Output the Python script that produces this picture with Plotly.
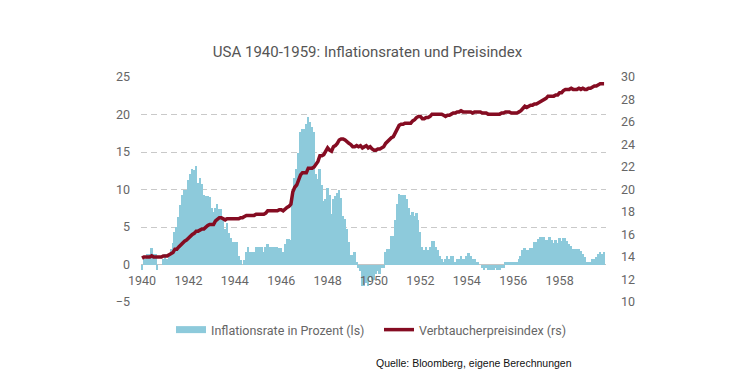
import plotly.graph_objects as go

# Monthly data Jan 1940 .. Dec 1959
years = list(range(1940, 1960))

cpi = [
    13.9, 14.0, 14.0, 14.0, 14.0, 14.1, 14.0, 14.0, 14.0, 14.0, 14.0, 14.1,  # 1940
    14.1, 14.1, 14.2, 14.3, 14.4, 14.7, 14.7, 14.9, 15.1, 15.3, 15.4, 15.5,  # 1941
    15.7, 15.8, 16.0, 16.1, 16.3, 16.3, 16.4, 16.5, 16.5, 16.7, 16.8, 16.9,  # 1942
    16.9, 16.9, 17.2, 17.4, 17.5, 17.5, 17.4, 17.3, 17.4, 17.4, 17.4, 17.4,  # 1943
    17.4, 17.4, 17.4, 17.5, 17.5, 17.6, 17.7, 17.7, 17.7, 17.7, 17.7, 17.8,  # 1944
    17.8, 17.8, 17.8, 17.8, 17.9, 18.1, 18.1, 18.1, 18.1, 18.1, 18.1, 18.2,  # 1945
    18.2, 18.1, 18.3, 18.4, 18.5, 18.7, 19.8, 20.2, 20.4, 20.8, 21.3, 21.5,  # 1946
    21.5, 21.5, 21.9, 21.9, 21.9, 22.0, 22.2, 22.5, 23.0, 23.0, 23.1, 23.4,  # 1947
    23.7, 23.5, 23.4, 23.8, 23.9, 24.1, 24.4, 24.5, 24.5, 24.4, 24.2, 24.1,  # 1948
    24.0, 23.8, 23.8, 23.9, 23.8, 23.9, 23.7, 23.8, 23.9, 23.7, 23.8, 23.6,  # 1949
    23.5, 23.5, 23.6, 23.6, 23.7, 23.8, 24.1, 24.3, 24.4, 24.6, 24.7, 25.0,  # 1950
    25.4, 25.7, 25.8, 25.8, 25.9, 25.9, 25.9, 25.9, 26.1, 26.2, 26.4, 26.5,  # 1951
    26.5, 26.3, 26.3, 26.4, 26.4, 26.5, 26.7, 26.7, 26.7, 26.7, 26.7, 26.7,  # 1952
    26.6, 26.5, 26.6, 26.6, 26.7, 26.8, 26.8, 26.9, 26.9, 27.0, 26.9, 26.9,  # 1953
    26.9, 26.9, 26.9, 26.8, 26.9, 26.9, 26.9, 26.9, 26.8, 26.8, 26.8, 26.7,  # 1954
    26.7, 26.7, 26.7, 26.7, 26.7, 26.7, 26.8, 26.8, 26.9, 26.9, 26.9, 26.8,  # 1955
    26.8, 26.8, 26.8, 26.9, 27.0, 27.2, 27.4, 27.3, 27.4, 27.5, 27.5, 27.6,  # 1956
    27.6, 27.7, 27.8, 27.9, 28.0, 28.1, 28.3, 28.3, 28.3, 28.3, 28.4, 28.4,  # 1957
    28.6, 28.6, 28.8, 28.9, 28.9, 28.9, 29.0, 28.9, 28.9, 28.9, 29.0, 28.9,  # 1958
    29.0, 28.9, 28.9, 29.0, 29.0, 29.1, 29.2, 29.2, 29.3, 29.4, 29.4, 29.4,  # 1959
]

inflation = [
    -0.7, 0.7, 0.7, 1.4, 1.4, 2.2, 1.4, 1.4, -0.7, 0.0, 0.0, 0.7,  # 1940
    1.4, 0.7, 1.4, 2.1, 2.9, 4.3, 5.0, 6.4, 7.9, 9.3, 10.0, 9.9,  # 1941
    11.3, 12.1, 12.7, 12.6, 13.2, 10.9, 11.6, 10.7, 9.3, 9.2, 9.1, 9.0,  # 1942
    7.6, 7.0, 7.5, 8.1, 7.4, 7.4, 6.1, 4.8, 5.5, 4.2, 3.6, 3.0,  # 1943
    3.0, 3.0, 1.2, 0.6, 0.0, 0.6, 1.7, 2.3, 1.7, 1.7, 1.7, 2.3,  # 1944
    2.3, 2.3, 2.3, 1.7, 2.3, 2.8, 2.3, 2.3, 2.3, 2.3, 2.3, 2.2,  # 1945
    2.2, 1.7, 2.8, 3.4, 3.4, 3.3, 9.4, 11.6, 12.7, 14.9, 17.7, 18.1,  # 1946
    18.1, 18.8, 19.7, 19.0, 18.4, 17.7, 12.1, 11.4, 12.7, 10.6, 8.5, 8.8,  # 1947
    10.2, 9.3, 6.8, 8.7, 9.1, 9.6, 9.9, 8.9, 6.5, 6.1, 4.8, 3.0,  # 1948
    1.3, 1.3, 1.7, 0.4, -0.4, -0.8, -2.9, -2.9, -2.4, -2.9, -1.7, -2.1,  # 1949
    -2.1, -1.3, -0.8, -1.3, -0.4, -0.4, 1.7, 2.1, 2.1, 3.8, 3.8, 5.9,  # 1950
    8.1, 9.4, 9.3, 9.3, 9.3, 8.8, 7.5, 6.6, 7.0, 6.5, 6.9, 6.0,  # 1951
    4.3, 2.3, 1.9, 2.3, 1.9, 2.3, 3.1, 3.1, 2.3, 1.9, 1.1, 0.8,  # 1952
    0.4, 0.8, 1.1, 0.8, 1.1, 1.1, 0.4, 0.8, 0.8, 1.1, 0.8, 0.8,  # 1953
    1.1, 1.5, 1.1, 0.8, 0.8, 0.4, 0.4, 0.0, -0.4, -0.7, -0.4, -0.7,  # 1954
    -0.7, -0.7, -0.7, -0.4, -0.7, -0.7, -0.4, -0.4, 0.4, 0.4, 0.4, 0.4,  # 1955
    0.4, 0.4, 0.4, 0.7, 1.1, 1.9, 2.2, 1.9, 1.9, 2.2, 2.2, 3.0,  # 1956
    3.0, 3.4, 3.7, 3.7, 3.7, 3.3, 3.3, 3.7, 3.3, 2.9, 3.3, 2.9,  # 1957
    3.6, 3.2, 3.6, 3.6, 3.2, 2.8, 2.5, 2.1, 2.1, 2.1, 2.1, 1.8,  # 1958
    1.4, 1.0, 0.4, 0.4, 0.4, 0.7, 0.7, 1.0, 1.4, 1.7, 1.4, 1.7,  # 1959
]

months = [y + m / 12 for y in years for m in range(12)]
tick_years = [1940, 1942, 1944, 1946, 1948, 1950, 1952, 1954, 1956, 1958]
tick_labels = [str(t) for t in tick_years]

name_bar = "Inflationsrate in Prozent (ls)"
name_line = "Verbtaucherpreisindex (rs)"
title_text = "USA 1940-1959: Inflationsraten und Preisindex"
source_text = "Quelle: Bloomberg, eigene Berechnungen"

BAR_COLOR = "#8DCADB"
LINE_COLOR = "#850C22"
TEXT_COLOR = "#666666"
FONT = "Roboto"

fig = go.Figure()
fig.add_trace(go.Bar(x=months, y=inflation, width=1 / 12, marker_color=BAR_COLOR,
                     marker_line_width=0, name=name_bar, showlegend=False, yaxis="y"))
fig.add_trace(go.Scatter(x=months, y=cpi, mode="lines", line=dict(color=LINE_COLOR, width=3.5),
                         name=name_line, showlegend=False, yaxis="y2"))
# legend entries
fig.add_trace(go.Scatter(x=[None], y=[None], mode="lines", line=dict(color=BAR_COLOR, width=7),
                         name=name_bar, yaxis="y"))
fig.add_trace(go.Scatter(x=[None], y=[None], mode="lines", line=dict(color=LINE_COLOR, width=3.5),
                         name=name_line, yaxis="y2"))

W, H = 729, 379  # page body has an 8px margin

fig.update_layout(
    width=W, height=H,
    margin=dict(l=133, r=131, t=69, b=85, autoexpand=False),
    paper_bgcolor="white", plot_bgcolor="white",
    font=dict(family=FONT, color=TEXT_COLOR, size=12),
    bargap=0,
    title=dict(text=title_text, x=359.5 / W, xanchor="center", xref="container",
               y=1 - 43.7 / H, yanchor="middle", yref="container",
               font=dict(family=FONT, size=15, color="#555555")),
    xaxis=dict(range=[1939.955, 1960.0], tickmode="array", tickvals=tick_years, ticktext=tick_labels,
               showgrid=False, zeroline=False, showline=False, anchor="free", position=1 / 6,
               ticks="", ticklabelstandoff=7, tickfont=dict(size=12.5, color=TEXT_COLOR)),
    yaxis=dict(range=[-5, 25], dtick=5, tickmode="linear", tick0=0, showgrid=True, gridcolor="#c9c9c9",
               griddash="6px,4px", gridwidth=1, zeroline=True, zerolinecolor="#c4c4c4", zerolinewidth=1,
               ticks="", ticklabelstandoff=10, tickfont=dict(size=12.5, color=TEXT_COLOR)),
    yaxis2=dict(range=[10, 30], dtick=2, tickmode="linear", tick0=10, overlaying="y", side="right",
                showgrid=False, zeroline=False, ticks="", ticklabelstandoff=14,
                tickfont=dict(size=12.5, color=TEXT_COLOR)),
    legend=dict(orientation="h", x=(176 - 141 - 5) / 465, xanchor="left", y=-28 / 225, yanchor="middle",
                font=dict(size=12.5, color=TEXT_COLOR), bgcolor="rgba(0,0,0,0)", itemwidth=30,
                entrywidth=163),
    annotations=[dict(text=source_text, xref="paper", yref="paper", x=(374 - 141) / 465, y=-61 / 225,
                      xanchor="left", yanchor="middle", showarrow=False,
                      font=dict(family="Liberation Sans", size=10.5, color="#111111"))],
)

fig.write_html("out.html")
